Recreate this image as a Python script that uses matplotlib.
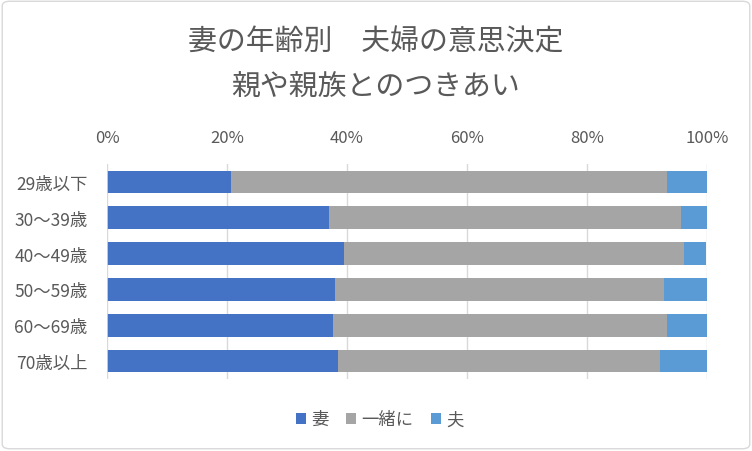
import numpy as np
import matplotlib
matplotlib.use("Agg")
import matplotlib.pyplot as plt
from matplotlib.patches import FancyBboxPatch
from matplotlib.ticker import PercentFormatter

plt.rcParams['font.family'] = ['Noto Sans CJK JP', 'DejaVu Sans']

# data (percent)
ages = ["29歳以下", "30～39歳", "40～49歳", "50～59歳", "60～69歳", "70歳以上"]
wife = [20.6, 37.0, 39.5, 38.0, 37.6, 38.5]
together = [72.8, 58.6, 56.6, 54.8, 55.7, 53.6]
husband = [6.6, 4.4, 3.7, 7.2, 6.7, 7.9]
series_names = ["妻", "一緒に", "夫"]
colors = ["#4472C4", "#A5A5A5", "#5B9BD5"]
txt = "#595959"

fig = plt.figure(figsize=(7.52, 4.52), dpi=100)
ax = fig.add_axes([0.1423, 0.159, 0.798, 0.476])

y = np.arange(len(ages))
left = np.zeros(len(ages))
for vals, name, c in zip([wife, together, husband], series_names, colors):
    ax.barh(y, vals, left=left, height=0.63, color=c, label=name, zorder=3)
    left = left + np.array(vals)

ax.set_xlim(0, 100)
ax.set_ylim(len(ages) - 0.5, -0.5)
ax.set_yticks(y)
ax.set_yticklabels(ages)
ax.set_xticks(np.arange(0, 101, 20))
ax.xaxis.set_major_formatter(PercentFormatter(decimals=0))
ax.xaxis.tick_top()
ax.tick_params(axis="x", length=0, pad=13, labelsize=12, labelcolor=txt)
ax.tick_params(axis="y", length=0, pad=14, labelsize=12.5, labelcolor=txt)
ax.grid(axis="x", color="#D9D9D9", linewidth=1, zorder=0)
for s in ax.spines.values():
    s.set_visible(False)
ax.axvline(0, color="#D9D9D9", linewidth=1.2, zorder=4)

fig.text(0.5, 0.907, "妻の年齢別　夫婦の意思決定", ha="center", va="center",
         fontsize=20.8, color=txt)
fig.text(0.5, 0.805, "親や親族とのつきあい", ha="center", va="center",
         fontsize=20.8, color=txt)

fig.legend(loc="center", bbox_to_anchor=(0.505, 0.07), ncol=3, frameon=False,
           fontsize=12.5, labelcolor=txt, handlelength=0.6, handleheight=0.6,
           handletextpad=0.3, columnspacing=1.0)

border = FancyBboxPatch((0.003, 0.005), 0.994, 0.99,
                        boxstyle="round,pad=0,rounding_size=0.01",
                        transform=fig.transFigure, fill=False,
                        edgecolor="#D9D9D9", linewidth=1)
fig.patches.append(border)

fig.savefig("out.png", dpi=100)
